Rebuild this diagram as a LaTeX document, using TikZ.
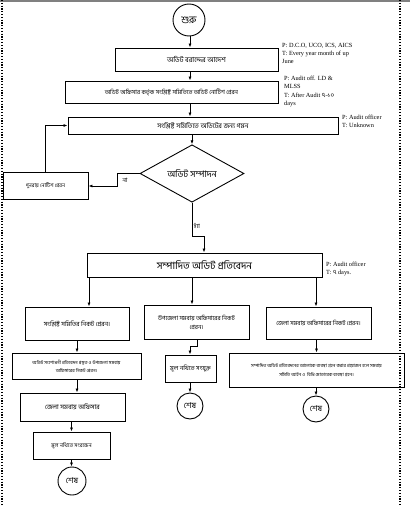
\documentclass[tikz,border=0pt]{standalone}
\usepackage{fontspec}
\setmainfont{Liberation Serif}
\newfontfamily\bn[Script=Bengali]{Hind Siliguri}
\usetikzlibrary{shapes.geometric,arrows.meta}
\begin{document}
\begin{tikzpicture}[x=1pt,y=-1pt,
  box/.style={draw,line width=0.9pt,inner sep=1pt,align=center,font=\bn\fontsize{6.5}{8}\selectfont},
  endc/.style={draw,circle,line width=0.9pt,inner sep=0pt,font=\bn\fontsize{8}{9}\selectfont},
  arr/.style={line width=0.9pt,-{Latex[length=4pt,width=3pt]}},
  note/.style={anchor=north west,inner sep=0pt,align=left,font=\fontsize{6.3}{8.3}\selectfont},
  lbl/.style={inner sep=0pt,font=\bn\fontsize{6}{7}\selectfont}]
\useasboundingbox (0,0) rectangle (410,506);
% frame
\draw[gray,line width=1.2pt] (0,1) -- (410,1);
\draw[line width=1.1pt,dash pattern=on 1.2pt off 1.6pt] (2,0) -- (2,506);
\draw[line width=1.1pt,dash pattern=on 1.2pt off 1.6pt] (400,0) -- (400,506);
% nodes
\node[endc,minimum size=32pt,font=\bn\fontsize{10}{11}\selectfont] (start) at (189,20) {শুরু};
\node[box,minimum width=163pt,minimum height=23pt,font=\bn\fontsize{7}{8}\selectfont] (b1) at (196.5,59.5) {অডিট বরাদ্দের আদেশ};
\node[box,minimum width=213pt,minimum height=22pt,font=\bn\fontsize{6}{8}\selectfont] (b2) at (171.5,92) {অডিট অফিসার কর্তৃক সংশ্লিষ্ট সমিতিতে অডিট নোটিশ প্রেরন};
\node[box,minimum width=270pt,minimum height=17pt,font=\bn\fontsize{6.8}{8}\selectfont] (b3) at (203,125.5) {সংশ্লিষ্ট সমিতিতে অডিটের জন্য গমন};
\node[draw,diamond,line width=0.9pt,inner sep=0pt,minimum width=104pt,minimum height=51pt,font=\bn\fontsize{9}{10}\selectfont] (dia) at (192,173.5) {অডিট সম্পাদন};
\node[box,minimum width=85pt,minimum height=27pt,font=\bn\fontsize{5.2}{6}\selectfont] (nb) at (45.5,185.5) {পুনরায় নোটিশ প্রেরন};
\node[box,minimum width=235pt,minimum height=24pt,font=\bn\fontsize{10}{11}\selectfont] (rep) at (204.5,265) {সম্পাদিত অডিট প্রতিবেদন};
\node[box,minimum width=104pt,minimum height=33pt,font=\bn\fontsize{6.3}{8}\selectfont] (A) at (77,323.5) {সংশ্লিষ্ট সমিতির নিকট প্রেরন।};
\node[box,minimum width=105pt,minimum height=34pt,font=\bn\fontsize{6}{9}\selectfont] (B) at (196.5,322) {উপজেলা সমবায় অফিসারের নিকট\\প্রেরন।};
\node[box,minimum width=105pt,minimum height=32pt,font=\bn\fontsize{6}{8}\selectfont] (C) at (318.5,323) {জেলা সমবায় অফিসারের নিকট প্রেরন।};
\node[box,minimum width=129pt,minimum height=26pt,font=\bn\fontsize{4.6}{8}\selectfont] (A2) at (76.5,366) {অডিট সংশোধনী প্রতিবেদন প্রস্তুত ও উপজেলা সমবায়\\অফিসারের নিকট প্রেরন।};
\node[box,minimum width=105pt,minimum height=28pt,font=\bn\fontsize{6.5}{8}\selectfont] (A3) at (72.5,407) {জেলা সমবায় অফিসার};
\node[box,minimum width=77pt,minimum height=27pt,font=\bn\fontsize{5.5}{7}\selectfont] (A4) at (71.5,445.5) {মূল নথিতে সংরক্ষন};
\node[endc,minimum size=28pt] (endA) at (72,481) {শেষ};
\node[box,minimum width=51pt,minimum height=27pt,font=\bn\fontsize{6.2}{7}\selectfont] (B2) at (190.5,368.5) {মূল নথিতে সংযুক্ত};
\node[endc,minimum size=26pt] (endB) at (190,406) {শেষ};
\node[box,minimum width=175pt,minimum height=34pt,font=\bn\fontsize{4.6}{8.5}\selectfont] (C2) at (316.5,370) {সম্পাদিত অডিট প্রতিবেদনের আলোকে ব্যবস্থা গ্রহন করার প্রয়োজন হলে সমবায়\\সমিতি আইন ও \ বিধি মোতাবেক ব্যবস্থা গ্রহন।};
\node[endc,minimum size=26pt] (endC) at (316,409) {শেষ};
% notes
\node[note] (n1) at (282,43) {P: D.C.O, UCO, ICS, AICS\\T: Every year month of up\\June};
\node[note] (n2) at (284,76) {P: Audit off. LD \&\\MLSS\\T: After Audit {\bn ৭-১০}\\days};
\node[note] (n3) at (342,115) {P: Audit officer\\T: Unknown};
\node[note] (n4) at (326,262) {P: Audit officer\\T: {\bn ৭} days.};
% helper coordinates
\coordinate (x190) at (190,0);
\coordinate (xA) at (89,0);
\coordinate (xC) at (316,0);
\coordinate (noL) at (117,173.5);
\coordinate (noB) at (117,186);
\coordinate (yesA) at (192,236);
\coordinate (yesB) at (204,236);
\coordinate (bA) at (197,346);
\coordinate (bB) at (190,346);
% connectors
\draw[arr] (start.south -| x190) -- (b1.north -| x190);
\draw[arr] (b1.south -| x190) -- (b2.north -| x190);
\draw[arr] (b2.south -| x190) -- (b3.north -| x190);
\draw[arr] (b3.south -| dia) -- (dia.north);
\draw[arr] (dia.west) -- (noL) -- (noB) -- (nb.east |- noB);
\node[lbl] (no) at (125,180) {না};
\draw[arr] (nb.north) |- (b3.west);
\draw[arr] (dia.south) -- (yesA) -- (yesB) -- (rep.north -| yesB);
\node[lbl] (yes) at (197,226) {হ্যাঁ};
\draw[arr] (rep.south -| xA) -- (A.north -| xA);
\draw[arr] (rep.south -| dia) -- (B.north -| dia);
\draw[arr] (rep.south -| xC) -- (C.north -| xC);
\draw[arr] (A.south) -- (A.south |- A2.north);
\draw[arr] (A2.south -| A.south) -- (A3.north -| A.south);
\draw[arr] (A3.south -| A4) -- (A4.north);
\draw[arr] (A4.south) -- (endA.north -| A4.south);
\draw[arr] (B.south -| bA) -- (bA) -- (bB) -- (B2.north -| bB);
\draw[arr] (B2.south -| endB) -- (endB.north);
\draw[arr] (C.south -| C2) -- (C2.north);
\draw[arr] (C2.south -| endC) -- (endC.north);
\end{tikzpicture}
\end{document}
